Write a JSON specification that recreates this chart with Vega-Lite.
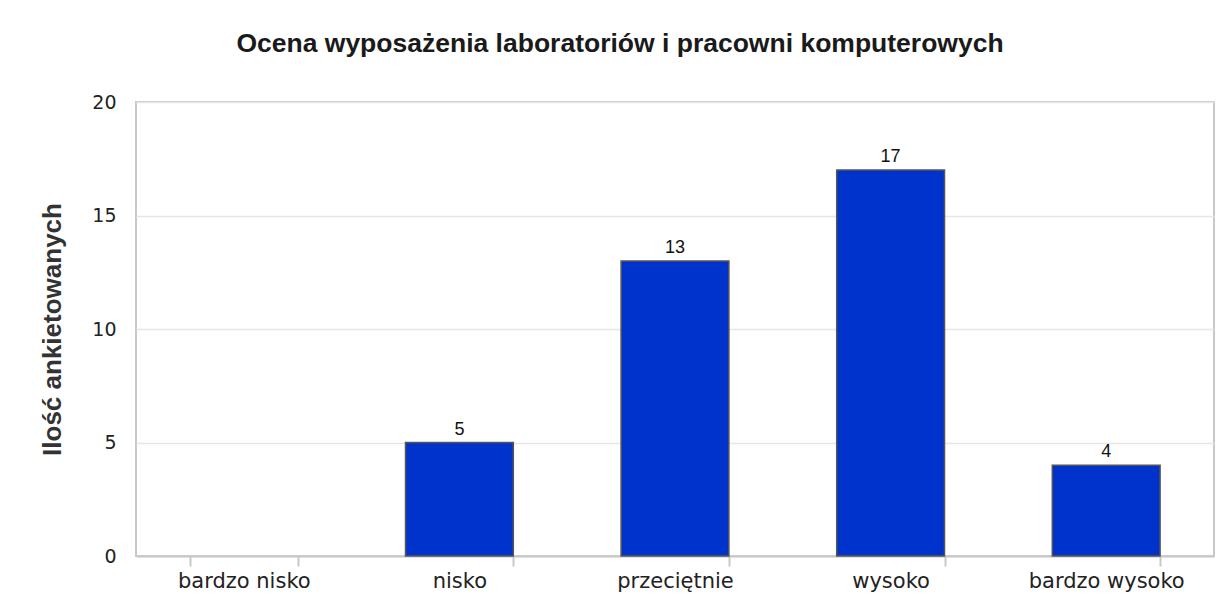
{
  "$schema": "https://vega.github.io/schema/vega-lite/v6.json",
  "autosize": {"type": "none"},
  "width": 1078,
  "height": 454,
  "padding": {"left": 136, "top": 102, "right": 3, "bottom": 50},
  "background": "white",
  "title": {
    "text": "Ocena wyposażenia laboratoriów i pracowni komputerowych",
    "font": "Liberation Sans",
    "fontSize": 26.5,
    "fontWeight": "bold",
    "color": "#1a1a1a",
    "anchor": "middle",
    "dx": -55,
    "offset": 36
  },
  "data": {
    "values": [
      {"ocena": "bardzo nisko", "ilosc": 0},
      {"ocena": "nisko", "ilosc": 5},
      {"ocena": "przeciętnie", "ilosc": 13},
      {"ocena": "wysoko", "ilosc": 17},
      {"ocena": "bardzo wysoko", "ilosc": 4}
    ]
  },
  "encoding": {
    "x": {
      "field": "ocena",
      "type": "nominal",
      "sort": null,
      "scale": {
        "domain": ["bardzo nisko", "nisko", "przeciętnie", "wysoko", "bardzo wysoko"],
        "paddingInner": 0.5,
        "paddingOuter": 0.25
      },
      "axis": {
        "title": null,
        "labelAngle": 0,
        "labelFont": "DejaVu Sans",
        "labelFontSize": 21,
        "labelColor": "#222222",
        "labelPadding": 4,
        "tickBand": "extent",
        "ticks": true,
        "tickSize": 10,
        "tickWidth": 2,
        "tickColor": "#c8c8c8",
        "domainColor": "#c8c8c8",
        "domainWidth": 2,
        "grid": false
      }
    },
    "y": {
      "field": "ilosc",
      "type": "quantitative",
      "scale": {"domain": [0, 20], "nice": false},
      "axis": {
        "title": "Ilość ankietowanych",
        "titleFont": "Liberation Sans",
        "titleFontSize": 26,
        "titleFontWeight": "bold",
        "titleColor": "#333333",
        "titlePadding": 26,
        "values": [0, 5, 10, 15, 20],
        "labelFont": "DejaVu Sans",
        "labelFontSize": 19,
        "labelColor": "#222222",
        "labelPadding": 20,
        "ticks": false,
        "domain": false,
        "grid": true,
        "gridColor": "#e6e6e6",
        "gridWidth": 1.5
      }
    }
  },
  "transform": [{"filter": "datum.ilosc > 0"}],
  "layer": [
    {
      "mark": {"type": "bar", "fill": "#0033cc", "stroke": "#555555", "strokeWidth": 1.5}
    },
    {
      "mark": {
        "type": "text",
        "baseline": "bottom",
        "dy": -4,
        "font": "Liberation Sans",
        "fontSize": 18,
        "color": "#111111"
      },
      "encoding": {"text": {"field": "ilosc", "type": "quantitative"}}
    }
  ],
  "config": {
    "view": {"stroke": "#c8c8c8", "strokeWidth": 2}
  }
}
